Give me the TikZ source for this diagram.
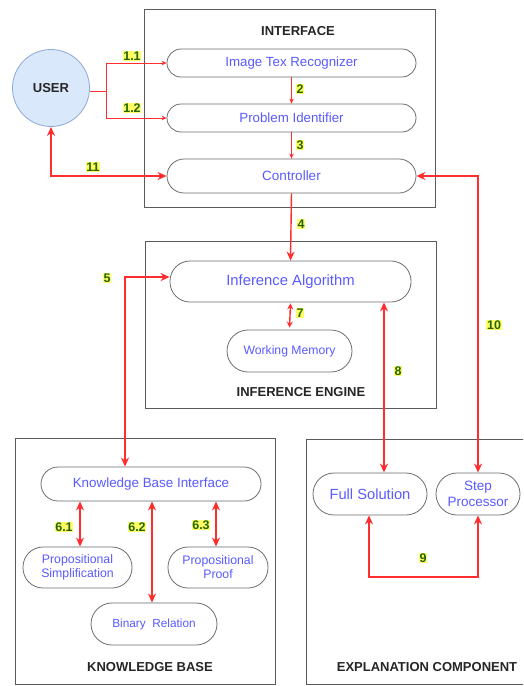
\documentclass[tikz,border=0pt]{standalone}
\usepackage{fontspec}
\setmainfont{Liberation Sans}
\usetikzlibrary{arrows.meta,calc}
\definecolor{ared}{RGB}{255,45,45}
\definecolor{tblue}{RGB}{90,90,255}
\definecolor{lgreen}{RGB}{35,100,10}
\definecolor{lyellow}{RGB}{255,255,100}
\definecolor{ufill}{RGB}{218,232,252}
\definecolor{ustroke}{RGB}{140,170,215}
\definecolor{pgray}{RGB}{90,90,90}
\definecolor{bgray}{RGB}{110,110,110}
\tikzset{
  panel/.style={draw=pgray, line width=1pt, inner sep=0pt},
  ttl/.style={font=\fontsize{13}{15}\selectfont\bfseries, text=black!85},
  rbox/.style={draw=bgray, line width=0.8pt, inner sep=0pt, text=tblue, align=center},
  lbl/.style={fill=lyellow, text=lgreen, font=\fontsize{12.5}{13}\selectfont\bfseries, inner sep=0.8pt},
  thinarr/.style={draw=ared, line width=0.8pt, -{Stealth[length=5pt,width=4.5pt]}},
  thickarr/.style={draw=ared, line width=1.4pt, {Stealth[length=9pt,width=8pt]}-{Stealth[length=9pt,width=8pt]}},
}
\begin{document}
\begin{tikzpicture}[x=1pt,y=-1pt]
\useasboundingbox (0,0) rectangle (523,686);
\clip (0,0) rectangle (523,686);
\fill[white] (0,0) rectangle (523,686);
% panels
\node[panel, minimum width=291pt, minimum height=198pt] (ifc) at (289.5,108) {};
\node[ttl] (ifct) at (298,31) {INTERFACE};
\node[panel, minimum width=291pt, minimum height=167pt] (iep) at (290.5,324.5) {};
\node[ttl] (iet) at (301,392) {INFERENCE ENGINE};
\node[panel, minimum width=260pt, minimum height=246pt] (kbp) at (145,561) {};
\node[ttl] (kbt) at (150,667) {KNOWLEDGE BASE};
\node[panel, minimum width=240pt, minimum height=245pt] (ecp) at (426,561.5) {};
\node[ttl] (ect) at (427,667) {EXPLANATION COMPONENT};
% user
\node[circle, draw=ustroke, fill=ufill, line width=0.8pt, minimum size=77pt, inner sep=0pt,
      font=\fontsize{13}{15}\selectfont\bfseries, text=black!85] (user) at (51,88) {USER};
% interface nodes
\node[rbox, minimum width=249pt, minimum height=28pt, rounded corners=14pt,
      font=\fontsize{13.3}{15}\selectfont] (itr) at (291.5,63) {Image Tex Recognizer};
\node[rbox, minimum width=249pt, minimum height=28pt, rounded corners=14pt,
      font=\fontsize{13.3}{15}\selectfont] (pid) at (291.5,118) {Problem Identifier};
\node[rbox, minimum width=249pt, minimum height=34pt, rounded corners=17pt,
      font=\fontsize{13.5}{15}\selectfont] (ctl) at (291.5,176) {Controller};
% inference engine
\node[rbox, minimum width=241pt, minimum height=41pt, rounded corners=20pt,
      font=\fontsize{14.8}{17}\selectfont] (ia) at (290.5,281.5) {Inference Algorithm};
\node[rbox, minimum width=125pt, minimum height=42pt, rounded corners=21pt,
      font=\fontsize{12.2}{14}\selectfont] (wm) at (289.5,351) {Working Memory};
% knowledge base
\node[rbox, minimum width=220pt, minimum height=34pt, rounded corners=17pt,
      font=\fontsize{13.4}{15}\selectfont] (kbi) at (151,484) {Knowledge Base Interface};
\node[rbox, minimum width=109pt, minimum height=41pt, rounded corners=20pt,
      font=\fontsize{12.3}{14}\selectfont] (ps) at (77.5,567.5) {Propositional\\Simplification};
\node[rbox, minimum width=100pt, minimum height=41pt, rounded corners=20pt,
      font=\fontsize{12.3}{14}\selectfont] (pp) at (218,567.5) {Propositional\\Proof};
\node[rbox, minimum width=126pt, minimum height=42pt, rounded corners=21pt,
      font=\fontsize{11.8}{14}\selectfont] (br) at (154,624) {Binary\ \ Relation};
% explanation
\node[rbox, minimum width=114pt, minimum height=42pt, rounded corners=21pt,
      font=\fontsize{14.7}{17}\selectfont] (fs) at (370,494) {Full Solution};
\node[rbox, minimum width=84pt, minimum height=42pt, rounded corners=21pt,
      font=\fontsize{13.5}{16}\selectfont] (sp) at (478,494) {Step\\Processor};
% connectors
\coordinate (j) at (106,91);
\draw[draw=ared, line width=0.8pt] (user.east |- j) -- (j);
\draw[thinarr] (j) |- (itr.west);
\draw[thinarr] (j) |- (pid.west);
\draw[thinarr] (itr.south) -- (pid.north);
\draw[thinarr] (pid.south) -- (ctl.north);
\draw[thickarr] (user.south) |- (ctl.west);
\draw[thickarr] (ctl.east) -| (sp.north);
\draw[draw=ared, line width=1.4pt, -{Stealth[length=9pt,width=8pt]}] (ctl.south) -- (ia.north);
\coordinate (c5) at (125,277);
\draw[thickarr] (ia.west |- c5) -- (c5) -- (c5 |- kbi.north);
\draw[draw=ared, line width=1.4pt, {Stealth[length=6pt,width=6pt]}-{Stealth[length=6pt,width=6pt]}]
  ([yshift=-1pt]ia.south) -- ([yshift=2pt]wm.north);
\coordinate (x8) at (384,0);
\draw[thickarr] (ia.south -| x8) -- (fs.north -| x8);
\coordinate (n9a) at (369,577);
\coordinate (n9b) at (478,577);
\draw[thickarr] (fs.south -| n9a) -- (n9a) -- (n9b) -- (sp.south);
\coordinate (x61) at (80,0);
\coordinate (x62) at (152,0);
\coordinate (x63) at (216,0);
\draw[thickarr] (kbi.south -| x61) -- (ps.north -| x61);
\draw[thickarr] (kbi.south -| x62) -- (br.north -| x62);
\draw[thickarr] (kbi.south -| x63) -- (pp.north -| x63);
% labels
\node[lbl] (l11) at (132,56) {1.1};
\node[lbl] (l12) at (132,108) {1.2};
\node[lbl] (l2) at (300,89) {2};
\node[lbl] (l3) at (300,145) {3};
\node[lbl] (l11b) at (93,167) {11};
\node[lbl] (l4) at (301,224) {4};
\node[lbl] (l5) at (107,278) {5};
\node[lbl] (l7) at (300,313) {7};
\node[lbl] (l8) at (398,371) {8};
\node[lbl] (l10) at (494,325) {10};
\node[lbl] (l61) at (64,527) {6.1};
\node[lbl] (l62) at (137,527) {6.2};
\node[lbl] (l63) at (201,525) {6.3};
\node[lbl] (l9) at (423,558) {9};
\end{tikzpicture}
\end{document}
